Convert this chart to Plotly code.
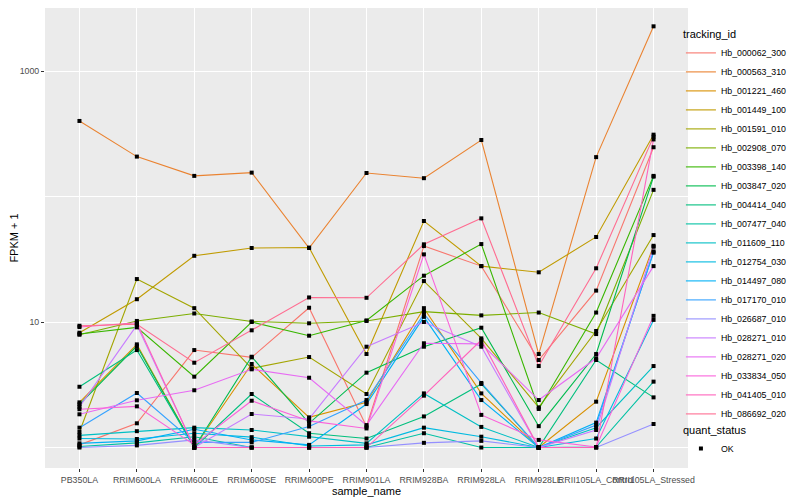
import plotly.graph_objects as go

samples = ["PB350LA", "RRIM600LA", "RRIM600LE", "RRIM600SE", "RRIM600PE", "RRIM901LA",
           "RRIM928BA", "RRIM928LA", "RRIM928LE", "RRII105LA_Control", "RRII105LA_Stressed"]

# FPKM + 1 values, one list per tracking_id (order follows `samples`)
hb_000062_300 = [1.05, 1.56, 5.98, 5.23, 13.0, 1.47, 40.3, 27.9, 4.98, 17.8, 247]
hb_000563_310 = [400, 208, 146, 155, 38.9, 154, 140, 282, 5.56, 206, 2270]
hb_001221_460 = [2.29, 6.64, 1.0, 4.63, 1.74, 2.29, 12.9, 2.70, 1.0, 2.32, 40.5]
hb_001449_100 = [8.22, 15.2, 33.7, 38.9, 39.2, 5.56, 63.8, 27.9, 24.9, 47.6, 311]
hb_001591_010 = [1.33, 22.0, 12.9, 4.28, 5.26, 2.67, 21.2, 7.41, 2.09, 8.48, 49.3]
hb_002908_070 = [7.92, 10.2, 11.7, 10.1, 9.77, 10.2, 12.1, 11.3, 11.9, 8.02, 113]
hb_003398_140 = [8.02, 9.07, 3.67, 10.0, 7.78, 10.3, 23.4, 41.8, 2.03, 11.9, 146]
hb_003847_020 = [2.21, 6.44, 1.0, 5.29, 1.56, 3.95, 6.36, 9.01, 1.48, 5.56, 144]
hb_004414_040 = [3.05, 5.98, 1.0, 2.67, 1.30, 1.18, 1.77, 3.21, 1.0, 4.98, 2.51]
hb_007477_040 = [1.02, 1.09, 1.22, 1.0, 1.0, 1.0, 1.30, 1.0, 1.0, 1.01, 3.35]
hb_011609_110 = [1.25, 1.35, 1.44, 1.38, 1.22, 1.08, 2.70, 1.46, 1.0, 1.44, 4.46]
hb_012754_030 = [1.18, 1.17, 1.30, 1.21, 1.03, 1.05, 1.44, 1.22, 1.0, 1.18, 10.4]
hb_014497_080 = [1.08, 1.13, 1.40, 1.15, 1.05, 2.22, 11.0, 2.39, 1.0, 1.58, 35.7]
hb_017170_010 = [1.44, 2.72, 1.10, 1.10, 1.47, 2.39, 11.6, 3.27, 1.0, 1.51, 36.5]
hb_026687_010 = [1.0, 1.04, 1.15, 1.0, 1.0, 1.0, 1.09, 1.13, 1.0, 1.0, 1.54]
hb_028271_010 = [2.11, 9.46, 1.0, 1.85, 1.69, 6.36, 10.0, 6.36, 1.0, 1.38, 39.8]
hb_028271_020 = [1.84, 2.38, 2.86, 4.20, 3.60, 1.51, 6.77, 6.70, 2.39, 5.14, 27.9]
hb_033834_050 = [2.02, 2.13, 1.05, 2.36, 1.63, 1.42, 34.6, 1.82, 1.15, 1.01, 11.2]
hb_041405_010 = [9.12, 9.87, 1.0, 1.0, 1.0, 1.0, 2.59, 7.19, 1.0, 1.0, 285]
hb_086692_020 = [9.34, 9.59, 4.74, 8.59, 15.7, 15.6, 41.6, 67.0, 4.46, 26.8, 300]

series = {
    "Hb_000062_300": hb_000062_300,
    "Hb_000563_310": hb_000563_310,
    "Hb_001221_460": hb_001221_460,
    "Hb_001449_100": hb_001449_100,
    "Hb_001591_010": hb_001591_010,
    "Hb_002908_070": hb_002908_070,
    "Hb_003398_140": hb_003398_140,
    "Hb_003847_020": hb_003847_020,
    "Hb_004414_040": hb_004414_040,
    "Hb_007477_040": hb_007477_040,
    "Hb_011609_110": hb_011609_110,
    "Hb_012754_030": hb_012754_030,
    "Hb_014497_080": hb_014497_080,
    "Hb_017170_010": hb_017170_010,
    "Hb_026687_010": hb_026687_010,
    "Hb_028271_010": hb_028271_010,
    "Hb_028271_020": hb_028271_020,
    "Hb_033834_050": hb_033834_050,
    "Hb_041405_010": hb_041405_010,
    "Hb_086692_020": hb_086692_020,
}

colors = ["#F8766D", "#EA8331", "#D89000", "#C09B00", "#A3A500", "#7CAE00", "#39B600",
          "#00BB4E", "#00BF7D", "#00C1A3", "#00BFC4", "#00BAE0", "#00B0F6", "#35A2FF",
          "#9590FF", "#C77CFF", "#E76BF3", "#FA62DB", "#FF62BC", "#FF6C91"]

FONT = "Liberation Sans, Arial, sans-serif"

fig = go.Figure()
for (name, vals), col in zip(series.items(), colors):
    fig.add_trace(go.Scatter(
        x=samples, y=vals, mode="lines", name=name,
        line=dict(color=col, width=1.1), legend="legend",
    ))

px, py = [], []
for vals in series.values():
    px.extend(samples)
    py.extend(vals)
fig.add_trace(go.Scatter(
    x=px, y=py, mode="markers", name="OK", legend="legend2",
    marker=dict(symbol="square", size=4, color="black"),
))

fig.update_layout(
    width=792, height=492,
    margin=dict(l=37, r=112, t=0, b=32, autoexpand=False),
    paper_bgcolor="white", plot_bgcolor="#EBEBEB",
    font=dict(family=FONT, color="#000000"),
    xaxis=dict(
        type="category", categoryorder="array", categoryarray=samples,
        range=[-0.6, 10.6], showgrid=True, gridcolor="white", gridwidth=1.1,
        zeroline=False, showline=False, tickangle=0,
        ticks="outside", ticklen=3, tickcolor="#333333", tickwidth=1,
        tickfont=dict(size=8.8, color="#4D4D4D", family=FONT),
        title=dict(text="sample_name", font=dict(size=11, family=FONT), standoff=1),
        automargin=False,
    ),
    yaxis=dict(
        type="log", range=[-0.163, 3.502],
        tickmode="array", tickvals=[10, 1000], ticktext=["10", "1000"],
        showgrid=True, gridcolor="white", gridwidth=1.1,
        minor=dict(tickmode="array", tickvals=[1, 100], showgrid=True,
                   gridcolor="white", gridwidth=0.55, ticklen=0),
        zeroline=False, showline=False,
        ticks="outside", ticklen=3, tickcolor="#333333", tickwidth=1,
        tickfont=dict(size=8.8, color="#4D4D4D", family=FONT),
        title=dict(text="FPKM + 1", font=dict(size=11, family=FONT), standoff=0),
        automargin=False,
    ),
    legend=dict(
        x=0.989, xanchor="left", y=0.965, yanchor="top",
        bgcolor="rgba(0,0,0,0)",
        title=dict(text="tracking_id", font=dict(size=11, family=FONT)),
        font=dict(size=8.8, family=FONT),
        itemwidth=30, tracegroupgap=0,
    ),
    legend2=dict(
        x=0.989, xanchor="left", y=0.105, yanchor="top",
        bgcolor="rgba(0,0,0,0)",
        title=dict(text="quant_status", font=dict(size=11, family=FONT)),
        font=dict(size=8.8, family=FONT),
    ),
    showlegend=True,
)

fig.write_html("out.html")
